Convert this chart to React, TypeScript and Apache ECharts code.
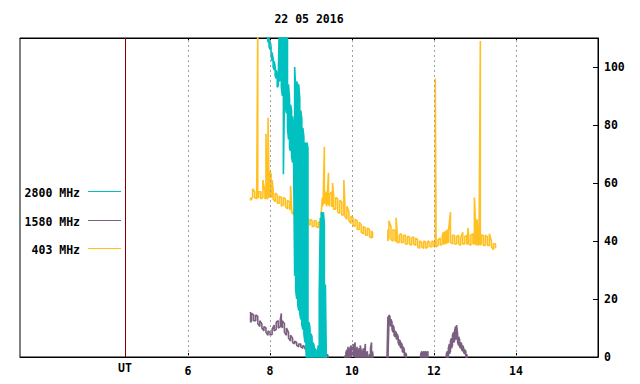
import React, { useEffect, useRef } from 'react';
import * as echarts from 'echarts';

const titleText = '22 05 2016';
const legendNames = ['2800 MHz', '1580 MHz', '403 MHz'];
const seriesColors = ['#00c0c0', '#7b5f80', '#ffc020'];
const xMin = 1.9;
const xMax = 16;
const yMin = 0;
const yMax = 110;
const xTickHours = [6, 8, 10, 12, 14];
const utHour = 4.46;
const utLabel = 'UT';
const yTicks = [0, 20, 40, 60, 80, 100];

type Row = [number, number, number] | null;

// [hour UT, upper, lower]
const s2800: Row[] = [
  [7.925, 118, 112], [7.95, 111, 108.5], [7.975, 110, 107], [8.0, 109, 106], [8.025, 107, 104],
  [8.05, 105, 102], [8.075, 103, 100], [8.1, 102, 99], [8.125, 100, 97], [8.15, 99, 96],
  [8.175, 97, 93], [8.2, 96, 93.5], [8.225, 115, 95], [8.25, 115, 96], [8.275, 115, 93],
  [8.3, 115, 90], [8.325, 115, 63], [8.35, 115, 88], [8.375, 115, 86], [8.4, 115, 84],
  [8.425, 115, 79], [8.45, 94, 75], [8.475, 89, 72], [8.5, 87, 71], [8.525, 85, 69],
  [8.55, 83, 67], [8.575, 80, 66], [8.6, 100, 28], [8.625, 93, 23], [8.65, 95, 20],
  [8.675, 94, 18], [8.7, 94, 16], [8.725, 89, 15], [8.75, 85, 13], [8.775, 82, 11],
  [8.8, 79, 9.5], [8.825, 76, 8], [8.85, 74, 5], [8.875, 73, 2], [8.9, 74, -2],
  [8.925, 72, -2], [8.95, 12, -2], [8.975, 10, -2], [9.0, 8, -2], [9.025, 7, -2],
  [9.05, 5, -2], [9.075, 4, -2], [9.1, 3, -2], [9.125, 2, -2], [9.15, 1, -2],
  [9.175, 4, -2], [9.2, 22, -2], [9.225, 48, -2], [9.25, 50, -2], [9.275, 49, -2],
  [9.3, 50, -2], [9.325, 46, -2], [9.35, 25, -2], [9.375, -3, -3],
];

const s1580: Row[] = [
  [7.525, 15.5, 12], [7.55, 15, 12.5], [7.6, 14.5, 12.5], [7.65, 14.5, 12.5], [7.7, 14, 11.5],
  [7.75, 12.5, 10.5], [7.8, 11.5, 10], [7.85, 10.5, 9], [7.9, 10, 8.5], [7.95, 9, 7.5],
  [8.0, 8.5, 7.5], [8.05, 9.5, 7.8], [8.1, 11, 9], [8.15, 12, 9.5], [8.2, 12.5, 10],
  [8.25, 13, 10.5], [8.275, 15, 11], [8.3, 12.5, 10], [8.35, 11.5, 8.5], [8.4, 10, 7.5],
  [8.45, 8.5, 6.5], [8.5, 7.5, 5.5], [8.55, 6.5, 5], [8.6, 5.5, 4.5], [8.65, 5, 4],
  [8.7, 4.5, 3.5], [8.75, 4.5, 3.5], [8.8, 4, 3], [8.85, 3.5, 2.8], [8.9, 3.5, 2.5],
  [8.95, 3, 2], [9.0, 2.8, 1.8], [9.05, 2.5, 1.5], [9.1, 2, 1], [9.15, 2, 1],
  [9.2, 2, 0.8], [9.25, 1.5, 0.5], [9.3, 1.5, 0], [9.35, 1, -0.5], [9.4, 1, -1],
  [9.45, -2, -2],
  [9.8, -2, -2], [9.825, 0.5, -1], [9.85, 1.5, -1], [9.875, 2.5, -1], [9.9, 3.5, 0],
  [9.925, 2, -1], [9.95, 3, 0], [9.975, 4, 0.5], [10.0, 2.5, 0], [10.025, 4.5, 1],
  [10.05, 3, 0], [10.075, 5, 0.5], [10.1, 2, -1], [10.125, 3.5, 0], [10.15, 1.5, -1],
  [10.175, 3, -1], [10.2, 4, 0], [10.225, 2, -1], [10.25, 1, -1], [10.275, 3, -1],
  [10.3, 1.5, -1], [10.325, 4.5, 0], [10.35, 1, -1], [10.375, 2, -1], [10.4, -1, -1],
  [10.425, 1, -1], [10.45, 3, -1], [10.475, 5, -1], [10.5, 2, -1], [10.525, -2, -2],
  [10.85, -2, -2], [10.875, 14, -1], [10.9, 14.5, 12], [10.925, 14, 11.5], [10.95, 13, 10.5],
  [10.975, 12, 9.5], [11.0, 11, 8.5], [11.025, 10, 7.5], [11.05, 9, 7], [11.075, 8.5, 6.5],
  [11.1, 8, 6], [11.125, 7, 5], [11.15, 6, 4], [11.175, 5.5, 3.5], [11.2, 5, 3],
  [11.225, 4, 2], [11.25, 3.5, 1.5], [11.275, 2.5, 0.5], [11.3, 1.5, 0], [11.325, 1, -1],
  [11.35, -2, -2],
  [11.65, -2, -2], [11.675, 1, -1], [11.7, 2, -1], [11.725, 1, 0], [11.75, 2, -1],
  [11.775, 1.5, -1], [11.8, 2, 0], [11.825, 1, -1], [11.85, 2, -1], [11.875, -2, -2],
  [12.275, -2, -2], [12.3, 1, -1], [12.325, 2, -1], [12.35, 3, 0], [12.375, 4.5, 1],
  [12.4, 5.5, 2], [12.425, 6.5, 3], [12.45, 7.5, 4], [12.475, 8.5, 5], [12.5, 9, 5.5],
  [12.525, 10.5, 6], [12.55, 11, 6.5], [12.575, 8, 5], [12.6, 7, 4], [12.625, 6, 3.5],
  [12.65, 5, 3], [12.675, 4.5, 2.5], [12.7, 4, 2], [12.725, 3, 1.5], [12.75, 2.5, 1],
  [12.775, 2, 0], [12.8, 1, -1], [12.825, -2, -2],
];

const s403: Row[] = [
  [7.525, 55, 54], [7.575, 58, 55], [7.625, 57, 55], [7.675, 57, 54.5], [7.7, 115, 55],
  [7.725, 57, 55], [7.775, 57, 54.5], [7.825, 61, 55], [7.875, 57, 54.5], [7.9, 77, 55],
  [7.925, 57, 54.5], [7.95, 82.5, 55], [7.975, 58, 55], [8.0, 64, 56], [8.025, 63, 55],
  [8.05, 61, 55.5], [8.075, 58, 54.5], [8.125, 56.5, 53.5], [8.175, 56, 53], [8.225, 55.5, 53],
  [8.275, 55, 52], [8.325, 55, 52.5], [8.375, 54.5, 52], [8.425, 54, 51], [8.475, 53.5, 51],
  [8.5, 59, 51], [8.525, 52, 50], [8.575, 51, 49], [8.625, 51, 48.5], [8.675, 50, 48],
  [8.725, 50, 47.5], [8.775, 49, 47], [8.825, 48.5, 46.5], [8.875, 48.5, 46.5], [8.925, 48, 46],
  [8.975, 47.5, 45.5], [9.025, 47, 45], [9.075, 47, 45], [9.125, 47, 45], [9.175, 46.5, 44.5],
  [9.225, 46.5, 44.5], [9.25, 50, 46], [9.275, 55, 52], [9.3, 57, 53], [9.325, 72.5, 53],
  [9.35, 57, 53], [9.375, 56, 52], [9.4, 57, 53], [9.425, 63.5, 53], [9.45, 56, 52],
  [9.5, 57, 52], [9.525, 60, 52], [9.55, 56, 51], [9.6, 55, 51], [9.65, 54.5, 50],
  [9.7, 54, 49.5], [9.75, 53.5, 49], [9.8, 61, 49], [9.825, 53, 48.5], [9.875, 52, 47.5],
  [9.925, 50, 47], [9.975, 48.5, 46], [10.025, 48, 45.5], [10.075, 47.5, 45], [10.125, 47, 44],
  [10.175, 46.5, 44], [10.225, 45.5, 43], [10.275, 45, 42.5], [10.325, 44.5, 42], [10.375, 44.5, 42],
  [10.425, 44, 41.5], [10.475, 43.5, 41], [10.5, 43, 41],
  null,
  [10.875, 44, 40], [10.9, 47, 41], [10.95, 45, 40.5], [11.0, 44, 40], [11.05, 43.5, 40],
  [11.075, 48, 40], [11.1, 43, 39.5], [11.15, 42, 39.5], [11.2, 42.5, 39.5], [11.25, 42, 39.5],
  [11.3, 42, 39], [11.35, 41.5, 39], [11.4, 41.5, 39], [11.45, 41, 38.5], [11.5, 41.5, 39],
  [11.55, 41, 38.5], [11.6, 40.5, 38], [11.65, 40, 37.5], [11.7, 39.5, 38], [11.75, 40, 37.5],
  [11.8, 39.5, 37.5], [11.85, 40, 38], [11.9, 39.5, 38], [11.95, 40, 38], [12.0, 39.5, 38],
  [12.03, 96, 38], [12.05, 40, 38], [12.1, 40.5, 38.5], [12.15, 41, 38.5], [12.2, 41.5, 39],
  [12.225, 43, 39], [12.25, 42, 39], [12.275, 43.5, 39.5], [12.3, 42, 39], [12.325, 44, 39.5],
  [12.35, 43, 39.5], [12.4, 50, 39.5], [12.45, 42, 39], [12.5, 42, 39], [12.55, 41.5, 39],
  [12.6, 42, 39], [12.65, 41, 38.5], [12.7, 43, 39], [12.75, 41.5, 39], [12.8, 42, 39],
  [12.825, 44.5, 39], [12.85, 41.5, 39], [12.9, 42, 38.5], [12.95, 42.5, 39], [12.985, 55, 39],
  [13.025, 42, 38.5], [13.05, 47.5, 39], [13.075, 42, 38.5], [13.1, 43, 39], [13.13, 109, 38.5],
  [13.15, 42, 39], [13.2, 42, 38.5], [13.25, 42, 38.5], [13.3, 41.5, 38.5], [13.35, 42.5, 38.5],
  [13.4, 40, 38], [13.45, 39, 37], [13.5, 39, 37.5],
];

const lineWidths = [1.6, 1.6, 1.6];

function zigzag(rows: Row[]) {
  const out: any[] = [];
  let lastT = 0;
  rows.forEach((r, i) => {
    if (!r) {
      out.push([lastT, null]);
      return;
    }
    const [t, hi, lo] = r;
    lastT = t;
    if (i % 2 === 0) {
      out.push([t, hi], [t, lo]);
    } else {
      out.push([t, lo], [t, hi]);
    }
  });
  return out;
}

const FONT = 'DejaVu Sans Mono';
const FS = 11.5;

export default function App() {
  const ref = useRef<HTMLDivElement>(null);
  useEffect(() => {
    if (!ref.current) return;
    const chart = echarts.init(ref.current, undefined, { renderer: 'svg' });
    const dataSets = [s2800, s1580, s403];
    const drawOrder = [2, 1, 0];
    const legendY0 = 191;
    const legendStep = 28.5;
    const graphics: any[] = [
      {
        type: 'text',
        x: 309,
        y: 19,
        style: {
          text: titleText,
          textAlign: 'center',
          textVerticalAlign: 'middle',
          fontFamily: FONT,
          fontWeight: 'bold',
          fontSize: FS,
          fill: '#000',
        },
      },
    ];
    legendNames.forEach((name, i) => {
      const y = Math.round(legendY0 + i * legendStep) + 0.5;
      graphics.push({
        type: 'text',
        x: 80,
        y: y + 1,
        style: {
          text: name,
          textAlign: 'right',
          textVerticalAlign: 'middle',
          fontFamily: FONT,
          fontWeight: 'bold',
          fontSize: FS,
          fill: '#000',
        },
      });
      graphics.push({
        type: 'line',
        shape: { x1: 88, y1: y, x2: 121, y2: y },
        style: { stroke: seriesColors[i], lineWidth: 1 },
      });
    });

    const series: any[] = [
      {
        type: 'line',
        data: [],
        silent: true,
        z: 1,
        markLine: {
          silent: true,
          symbol: ['none', 'none'],
          label: { show: false },
          animation: false,
          lineStyle: { color: '#a0a0a0', type: [2, 3], width: 1 },
          data: [
            ...xTickHours.map((h) => ({ xAxis: h })),
            { xAxis: utHour, lineStyle: { color: '#800000', type: 'solid', width: 1 } },
          ],
        },
      },
    ];
    drawOrder.forEach((idx, k) => {
      series.push({
        type: 'line',
        name: legendNames[idx],
        data: zigzag(dataSets[idx]),
        showSymbol: false,
        symbol: 'none',
        clip: true,
        silent: true,
        connectNulls: false,
        z: 2 + k,
        lineStyle: { color: seriesColors[idx], width: lineWidths[idx] },
        itemStyle: { color: seriesColors[idx] },
      });
    });

    const axisText = {
      fontFamily: FONT,
      fontWeight: 'bold',
      fontSize: FS,
      color: '#000',
    };

    chart.setOption({
      animation: false,
      backgroundColor: '#ffffff',
      grid: {
        left: 20,
        right: 42,
        top: 38,
        bottom: 27,
        show: true,
        borderColor: '#000',
        borderWidth: 1,
        backgroundColor: 'transparent',
      },
      xAxis: [
        {
          type: 'value',
          position: 'bottom',
          min: xMin,
          max: xMax,
          axisLine: { show: true, lineStyle: { color: '#000', width: 1 } },
          axisTick: {
            show: true,
            inside: true,
            length: 4,
            customValues: xTickHours,
            lineStyle: { color: '#000' },
          },
          axisLabel: {
            show: true,
            margin: 5,
            customValues: [utHour, ...xTickHours],
            formatter: (v: number) =>
              Math.abs(v - utHour) < 1e-6 ? `{ut|${utLabel}}` : `{n|${v}}`,
            rich: {
              ut: { ...axisText },
              n: { ...axisText, padding: [3, 0, 0, 0] },
            },
            ...axisText,
          },
          splitLine: { show: false },
        },
        {
          type: 'value',
          position: 'top',
          min: xMin,
          max: xMax,
          axisLine: { show: true, lineStyle: { color: '#000', width: 1 } },
          axisTick: {
            show: true,
            inside: true,
            length: 4,
            customValues: xTickHours,
            lineStyle: { color: '#000' },
          },
          axisLabel: { show: false },
          splitLine: { show: false },
        },
      ],
      yAxis: {
        type: 'value',
        position: 'right',
        min: yMin,
        max: yMax,
        axisLine: { show: true, lineStyle: { color: '#000', width: 1 } },
        axisTick: {
          show: true,
          inside: true,
          length: 5,
          customValues: yTicks,
          lineStyle: { color: '#000' },
        },
        axisLabel: {
          show: true,
          margin: 6,
          customValues: yTicks,
          ...axisText,
        },
        splitLine: { show: false },
      },
      graphic: graphics,
      series,
    });
    return () => chart.dispose();
  }, []);
  return (
    <div
      ref={ref}
      style={{ position: 'absolute', left: 0, top: 0, width: 640, height: 384, background: '#fff' }}
    />
  );
}
